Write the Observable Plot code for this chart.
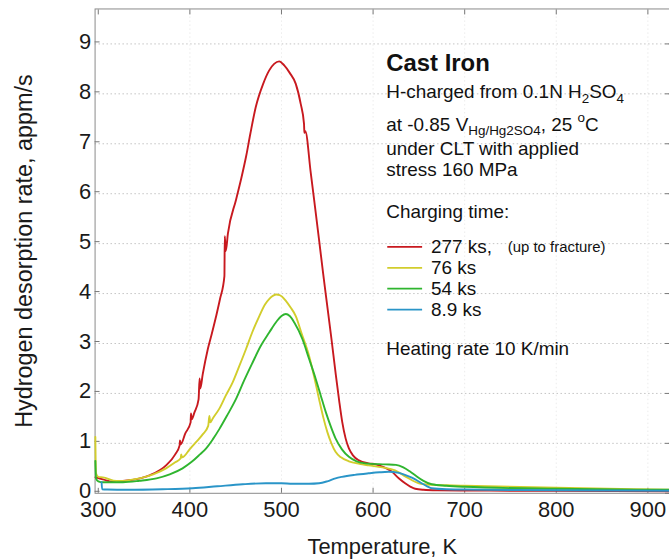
<!DOCTYPE html>
<html><head><meta charset="utf-8">
<script src="https://cdn.jsdelivr.net/npm/d3@7"></script>
<script src="https://cdn.jsdelivr.net/npm/@observablehq/plot@0.6"></script>
<style>
html,body{margin:0;padding:0;background:#fff;overflow:hidden;}
#chart{position:relative;width:669px;height:560px;overflow:hidden;}
</style></head><body><div id="chart"></div>
<script>
// ---- data ----
const seriesNames = ["277 ks", "76 ks", "54 ks", "8.9 ks"];
const seriesColors = ["#c8191f", "#d2cd2c", "#2fb52f", "#2a95c8"];
const legendNotes = ["(up to fracture)", "", "", ""];

const t277 = [297, 305, 316, 334, 356, 374, 384, 388.8, 389.2, 390, 395, 400.8, 401.2, 402, 405, 409.5, 410.6, 411.4, 414, 419.6, 424, 428.7, 433, 437.7, 438.1, 439.2, 441.5, 450.4, 456, 461.3, 466, 472, 480, 486.6, 492, 497.5, 503, 509, 515.6, 521, 524.6, 525, 526, 532, 536.5, 541, 545.5, 550, 554.5, 559, 563, 566.3, 570, 573.6, 578, 584.5, 595, 602.6, 612, 620.7, 628, 635, 641, 646, 655, 670, 700, 800, 923];
const v277 = [0.32, 0.28, 0.23, 0.26, 0.36, 0.56, 0.78, 0.96, 1.06, 0.98, 1.2, 1.42, 1.6, 1.48, 1.62, 1.88, 2.3, 2.1, 2.38, 2.89, 3.2, 3.55, 3.9, 4.35, 5.15, 4.85, 5.2, 5.88, 6.3, 6.74, 7.2, 7.74, 8.2, 8.47, 8.6, 8.65, 8.57, 8.42, 8.2, 7.8, 7.4, 7.22, 7.25, 6.41, 5.75, 5.08, 4.4, 3.75, 3.1, 2.42, 1.85, 1.43, 1.1, 0.9, 0.76, 0.66, 0.6, 0.58, 0.52, 0.43, 0.3, 0.2, 0.13, 0.09, 0.07, 0.06, 0.055, 0.05, 0.04];

const t76 = [296.8, 297.5, 300, 305, 320, 345, 360, 374, 384, 390, 390.5, 391.5, 399.7, 403, 408, 414, 420, 421.3, 422.2, 425, 432, 439, 446.7, 454, 461.3, 468, 475.8, 482, 487, 491, 494.5, 498, 505, 510, 515.6, 522, 530, 535.5, 541, 545.5, 550, 554.5, 559, 565, 573.6, 585, 595, 610, 624, 636, 650, 664, 680, 700, 800, 923];
const v76 = [1.13, 0.4, 0.33, 0.32, 0.245, 0.3, 0.38, 0.5, 0.62, 0.7, 0.78, 0.72, 0.88, 0.95, 1.05, 1.18, 1.35, 1.55, 1.42, 1.5, 1.69, 1.95, 2.22, 2.55, 2.89, 3.22, 3.55, 3.78, 3.9, 3.96, 3.98, 3.97, 3.85, 3.72, 3.55, 3.2, 2.76, 2.35, 1.89, 1.53, 1.23, 1.0, 0.83, 0.72, 0.64, 0.59, 0.56, 0.52, 0.46, 0.33, 0.2, 0.17, 0.16, 0.15, 0.11, 0.07];

const t54 = [296.8, 297.5, 300, 305, 327, 345, 363.5, 378, 392, 402, 411, 417.8, 425, 432.3, 441, 450.4, 459, 468.5, 477, 486.6, 495, 500, 504.8, 509, 514, 522.8, 530, 537.4, 543, 548.3, 554, 559, 566, 573.6, 582, 591.7, 613.5, 625, 633, 640, 646, 655, 664, 680, 700, 800, 923];
const v54 = [0.65, 0.3, 0.24, 0.22, 0.22, 0.25, 0.3, 0.38, 0.5, 0.63, 0.78, 0.9, 1.08, 1.29, 1.57, 1.89, 2.25, 2.62, 2.94, 3.22, 3.45, 3.55, 3.59, 3.55, 3.42, 3.09, 2.7, 2.29, 1.95, 1.63, 1.33, 1.1, 0.88, 0.73, 0.64, 0.6, 0.58, 0.57, 0.52, 0.44, 0.36, 0.25, 0.18, 0.15, 0.13, 0.09, 0.07];

const t89 = [303.6, 304.2, 310, 331, 370, 403, 430, 457.6, 483, 500, 512, 530, 541, 550, 559, 566, 580, 595, 607, 617, 628, 639, 646, 653, 659, 664, 680, 700, 800, 923];
const v89 = [0.22, 0.08, 0.075, 0.07, 0.08, 0.1, 0.14, 0.18, 0.2, 0.2, 0.19, 0.19, 0.2, 0.24, 0.3, 0.33, 0.37, 0.4, 0.42, 0.43, 0.41, 0.34, 0.28, 0.2, 0.14, 0.1, 0.08, 0.075, 0.06, 0.05];

const xTicks = [300, 400, 500, 600, 700, 800, 900];
const yTicks = [0, 1, 2, 3, 4, 5, 6, 7, 8, 9];
const xLabel = "Temperature, K";
const yLabel = "Hydrogen desorption rate, appm/s";

// ---- table for Plot ----
const seriesT = [t277, t76, t54, t89];
const seriesV = [v277, v76, v54, v89];
const rows = [];
seriesNames.forEach((name, i) => {
  seriesT[i].forEach((t, j) => rows.push({series: name, T: t, V: seriesV[i][j]}));
});

const FONT = "'Liberation Sans', Arial, Helvetica, sans-serif";
const fmt = d3.format("d");

const plot = Plot.plot({
  width: 672, height: 560,
  marginLeft: 95, marginRight: 0, marginTop: 8.5, marginBottom: 65,
  style: {fontFamily: FONT, fontSize: "22px", color: "#1a1a1a", background: "white", overflow: "visible"},
  x: {domain: [296.5, 923.6]},
  y: {domain: [0, 9.7]},
  color: {domain: seriesNames, range: seriesColors},
  marks: [
    Plot.gridY(yTicks.slice(1), {stroke: "#c4c4c4", strokeOpacity: 1, strokeDasharray: "1.5,2.5"}),
    Plot.gridX(xTicks.slice(1), {stroke: "#ececec", strokeOpacity: 1, strokeDasharray: "1.5,2.5"}),
    Plot.frame({stroke: "#8a8a8a"}),
    Plot.axisX(xTicks, {anchor: "bottom", tickSize: -5, tickPadding: 13, tickFormat: fmt, label: null, stroke: "#777", fill: "#1a1a1a", fontSize: 22}),
    Plot.axisX(xTicks, {anchor: "top", tickSize: -5, tickFormat: () => "", label: null, stroke: "#777"}),
    Plot.axisY(yTicks, {anchor: "left", tickSize: -5, tickPadding: 9, tickFormat: fmt, label: null, stroke: "#777", fill: "#1a1a1a", fontSize: 22, dy: -2}),
    Plot.axisY(yTicks, {anchor: "right", tickSize: -5, tickFormat: () => "", label: null, stroke: "#777"}),
    Plot.line(rows, {x: "T", y: "V", z: "series", stroke: "series", strokeWidth: 1.9, curve: "monotone-x"}),
    Plot.text([xLabel], {frameAnchor: "bottom", dy: 61, lineAnchor: "bottom", textAnchor: "middle", fontSize: 22, fill: "#1a1a1a"}),
    Plot.text([yLabel], {frameAnchor: "left", dx: -71, rotate: -90, textAnchor: "middle", lineAnchor: "middle", fontSize: 23.5, fill: "#1a1a1a"})
  ]
});

// ---- annotation block ----
const svg = d3.select(plot);
const g = svg.append("g").attr("font-family", FONT).attr("fill", "#111").attr("text-anchor", "start");
const AX = 388;
g.append("text").attr("x", AX).attr("y", 71.5).attr("font-size", 24).attr("font-weight", "bold").text("Cast Iron");

const l2 = g.append("text").attr("x", AX).attr("y", 98).attr("font-size", 19);
l2.append("tspan").text("H-charged from 0.1N H");
l2.append("tspan").attr("font-size", 13.5).attr("dy", 5).text("2");
l2.append("tspan").attr("dy", -5).text("SO");
l2.append("tspan").attr("font-size", 13.5).attr("dy", 5).text("4");

const l3 = g.append("text").attr("x", AX).attr("y", 131.5).attr("font-size", 19);
l3.append("tspan").text("at -0.85 V");
l3.append("tspan").attr("font-size", 13.5).attr("dy", 4.5).text("Hg/Hg2SO4");
l3.append("tspan").attr("dy", -4.5).text(", 25 ");
l3.append("tspan").attr("font-size", 13.5).attr("dy", -9).text("o");
l3.append("tspan").attr("dy", 9).text("C");

g.append("text").attr("x", AX).attr("y", 155.5).attr("font-size", 19).text("under CLT with applied");
g.append("text").attr("x", AX).attr("y", 177).attr("font-size", 19).text("stress 160 MPa");
g.append("text").attr("x", AX).attr("y", 219).attr("font-size", 19).text("Charging time:");

seriesNames.forEach((name, i) => {
  const base = 254.5 + i * 21;
  g.append("line").attr("x1", 389).attr("x2", 424).attr("y1", base - 6.5).attr("y2", base - 6.5)
    .attr("stroke", seriesColors[i]).attr("stroke-width", 1.8);
  g.append("text").attr("x", 433).attr("y", base).attr("font-size", 19).text(name + (legendNotes[i] ? "," : ""));
  if (legendNotes[i]) g.append("text").attr("x", 510).attr("y", base - 1.5).attr("font-size", 15).text(legendNotes[i]);
});

g.append("text").attr("x", AX).attr("y", 357).attr("font-size", 19).text("Heating rate 10 K/min");

document.getElementById("chart").appendChild(plot);
</script>
</body></html>
